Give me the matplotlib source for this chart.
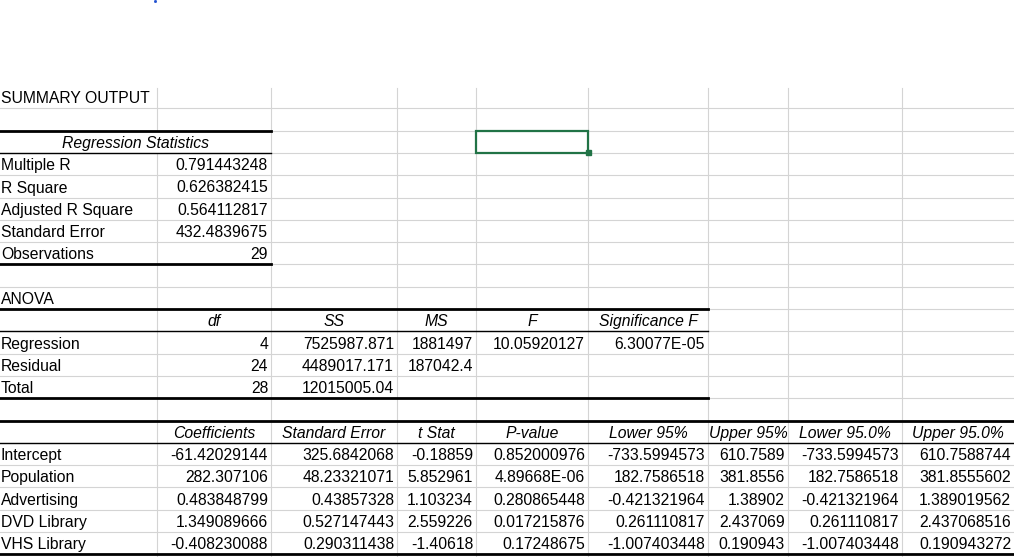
import matplotlib

matplotlib.use("Agg")

import matplotlib.pyplot as plt
from matplotlib.patches import Rectangle

col_edges = [0, 157, 271, 397, 476, 588, 708, 788, 902, 1014]
row_top = 86.0
row_h = 22.3
n_rows = 21

reg_labels = ["Multiple R", "R Square", "Adjusted R Square", "Standard Error", "Observations"]
reg_values = ["0.791443248", "0.626382415", "0.564112817", "432.4839675", "29"]

anova_headers = ["df", "SS", "MS", "F", "Significance F"]
anova_labels = ["Regression", "Residual", "Total"]
anova_values = [
    ["4", "7525987.871", "1881497", "10.05920127", "6.30077E-05"],
    ["24", "4489017.171", "187042.4", "", ""],
    ["28", "12015005.04", "", "", ""],
]

coef_headers = ["Coefficients", "Standard Error", "t Stat", "P-value", "Lower 95%",
                "Upper 95%", "Lower 95.0%", "Upper 95.0%"]
coef_labels = ["Intercept", "Population", "Advertising", "DVD Library", "VHS Library"]
coef_values = [
    ["-61.42029144", "325.6842068", "-0.18859", "0.852000976", "-733.5994573", "610.7589", "-733.5994573", "610.7588744"],
    ["282.307106", "48.23321071", "5.852961", "4.89668E-06", "182.7586518", "381.8556", "182.7586518", "381.8555602"],
    ["0.483848799", "0.43857328", "1.103234", "0.280865448", "-0.421321964", "1.38902", "-0.421321964", "1.389019562"],
    ["1.349089666", "0.527147443", "2.559226", "0.017215876", "0.261110817", "2.437069", "0.261110817", "2.437068516"],
    ["-0.408230088", "0.290311438", "-1.40618", "0.17248675", "-1.007403448", "0.190943", "-1.007403448", "0.190943272"],
]

FONT = "Liberation Sans"
FS = 11.3


def row_y(r):
    return row_top + r * row_h


def cell_text(ax, r, c, text, align="left", italic=False):
    base = row_y(r + 1) - 5
    if align == "left":
        x, ha = col_edges[c] + 1, "left"
    elif align == "right":
        x, ha = col_edges[c + 1] - 3, "right"
    else:
        x, ha = (col_edges[c] + col_edges[c + 1]) / 2, "center"
    ax.text(x, base, text, ha=ha, va="baseline", fontsize=FS, family=FONT,
            style="italic" if italic else "normal", zorder=5)


fig = plt.figure(figsize=(10.14, 5.57), dpi=100)
ax = fig.add_axes([0, 0, 1, 1])
ax.set_xlim(0, 1014)
ax.set_ylim(557, 0)
ax.axis("off")

grid = "#d4d4d4"
for r in range(1, n_rows + 1):
    ax.plot([0, 1014], [row_y(r), row_y(r)], color=grid, lw=0.8, zorder=1)
for x in col_edges[1:-1]:
    ax.plot([x, x], [row_top + 2, 557], color=grid, lw=0.8, zorder=1)
# merged header cell hides the gridline
ax.add_patch(Rectangle((150, row_y(2) + 1), 14, row_h - 2, color="white", zorder=2))

cell_text(ax, 0, 0, "SUMMARY OUTPUT")

# regression statistics
ax.text(col_edges[2] / 2, row_y(3) - 5, "Regression Statistics", ha="center", va="baseline",
        fontsize=FS, family=FONT, style="italic", zorder=5)
for i, (lab, val) in enumerate(zip(reg_labels, reg_values)):
    cell_text(ax, 3 + i, 0, lab)
    cell_text(ax, 3 + i, 1, val, align="right")
ax.plot([0, col_edges[2]], [row_y(2), row_y(2)], color="black", lw=2, zorder=4)
ax.plot([0, col_edges[2]], [row_y(3), row_y(3)], color="black", lw=1, zorder=4)
ax.plot([0, col_edges[2]], [row_y(8), row_y(8)], color="black", lw=2, zorder=4)

# anova
cell_text(ax, 9, 0, "ANOVA")
for j, h in enumerate(anova_headers):
    cell_text(ax, 10, 1 + j, h, align="center", italic=True)
for i, lab in enumerate(anova_labels):
    cell_text(ax, 11 + i, 0, lab)
    for j, v in enumerate(anova_values[i]):
        if v:
            cell_text(ax, 11 + i, 1 + j, v, align="right")
ax.plot([0, col_edges[6]], [row_y(10), row_y(10)], color="black", lw=2, zorder=4)
ax.plot([0, col_edges[6]], [row_y(11), row_y(11)], color="black", lw=1, zorder=4)
ax.plot([0, col_edges[6]], [row_y(14), row_y(14)], color="black", lw=2, zorder=4)

# coefficients
for j, h in enumerate(coef_headers):
    cell_text(ax, 15, 1 + j, h, align="center", italic=True)
for i, lab in enumerate(coef_labels):
    cell_text(ax, 16 + i, 0, lab)
    for j, v in enumerate(coef_values[i]):
        cell_text(ax, 16 + i, 1 + j, v, align="right")
ax.plot([0, 1014], [row_y(15), row_y(15)], color="black", lw=2, zorder=4)
ax.plot([0, 1014], [row_y(16), row_y(16)], color="black", lw=1, zorder=4)
ax.plot([0, 1014], [row_y(21) - 0.5, row_y(21) - 0.5], color="black", lw=2, zorder=4)

# selected cell
ax.add_patch(Rectangle((col_edges[4], row_y(2)), col_edges[5] - col_edges[4], row_h,
                       fill=False, edgecolor="#217346", lw=1.6, zorder=6))
ax.add_patch(Rectangle((col_edges[5] - 2.5, row_y(3) - 2.5), 5, 5, color="#217346", zorder=7))
ax.plot([155], [0.5], marker="s", ms=1, color="#1f4fd0", zorder=7)

fig.savefig("out.png", dpi=100)
